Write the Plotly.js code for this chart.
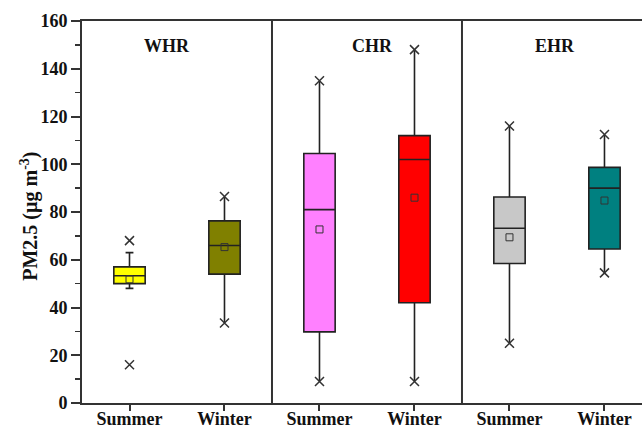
<!DOCTYPE html>
<html>
<head>
<meta charset="utf-8">
<script src="https://cdn.plot.ly/plotly-3.0.1.min.js"></script>
<style>
  html, body { margin: 0; padding: 0; background: #fff; overflow: hidden; }
  #chart { width: 642px; height: 428px; }
</style>
</head>
<body>
<div id="chart"></div>
<script>
// PM2.5 concentrations by region and season
const regions = ['WHR', 'CHR', 'EHR'];
const seasons = ['Summer', 'Winter', 'Summer', 'Winter', 'Summer', 'Winter'];
const lowerWhisker = [48, 33.5, 9, 9, 25, 54.5];
const q1 = [50, 54, 29.8, 42, 58.4, 64.5];
const median = [53.3, 66, 81, 102, 73.2, 90];
const q3 = [57, 76.3, 104.5, 112, 86.3, 98.7];
const upperWhisker = [63, 86.5, 135, 148, 116, 112.5];
const means = [51.8, 65.3, 72.7, 86, 69.4, 84.8];
const minValues = [16, 33.5, 9, 9, 25, 54.5];
const maxValues = [68, 86.5, 135, 148, 116, 112.5];
const fillColors = ['#FFFF00', '#808000', '#FF80FF', '#FF0000', '#C8C8C8', '#008080'];

const FONT = 'Liberation Serif, Times New Roman, serif';
const positions = seasons.map((_, i) => i);

const traces = [];
positions.forEach((pos, i) => {
  traces.push({
    type: 'box',
    x: [pos],
    q1: [q1[i]],
    median: [median[i]],
    q3: [q3[i]],
    lowerfence: [lowerWhisker[i]],
    upperfence: [upperWhisker[i]],
    width: 0.33,
    whiskerwidth: i === 0 ? 0.25 : 0,
    fillcolor: fillColors[i],
    line: { color: '#222', width: 1.6 },
    hoverinfo: 'skip',
    showlegend: false
  });
});

// mean markers
traces.push({
  type: 'scatter', mode: 'markers',
  x: positions, y: means,
  marker: { symbol: 'square-open', size: 7, color: '#333', line: { width: 1 } },
  hoverinfo: 'skip', showlegend: false
});

// minimum and maximum markers
traces.push({
  type: 'scatter', mode: 'markers',
  x: positions.concat(positions),
  y: minValues.concat(maxValues),
  marker: { symbol: 'x-thin-open', size: 9, color: '#333', line: { width: 1.5, color: '#333' } },
  hoverinfo: 'skip', showlegend: false
});

const regionLabelX = [0.39, 2.56, 4.48];
const annotations = regions.map((r, k) => ({
  x: regionLabelX[k], y: 149.5, xref: 'x', yref: 'y',
  text: r, showarrow: false,
  font: { family: FONT, size: 18, color: '#111', weight: 'bold' }
}));
annotations.push({
  x: -0.093, xref: 'paper', xanchor: 'center', y: 0.49, yref: 'paper',
  text: 'PM2.5 (µg m<sup>-3</sup>)', textangle: -90, showarrow: false,
  font: { family: FONT, size: 20, color: '#111', weight: 'bold' }
});

const layout = {
  width: 642, height: 428,
  margin: { l: 82, r: 0, t: 21, b: 25 },
  paper_bgcolor: '#fff', plot_bgcolor: '#fff',
  boxmode: 'overlay',
  showlegend: false,
  xaxis: {
    range: [-0.5, 5.395],
    tickvals: positions, ticktext: seasons,
    ticks: 'outside', ticklen: 6, tickwidth: 2, tickcolor: '#333',
    ticklabelstandoff: -8,
    showline: true, linecolor: '#333', linewidth: 2, mirror: true,
    showgrid: false, zeroline: false,
    tickfont: { family: FONT, size: 18, color: '#111', weight: 'bold' }
  },
  yaxis: {
    range: [0, 160], dtick: 20, tick0: 0,
    ticks: 'outside', ticklen: 9, tickwidth: 2, tickcolor: '#333',
    minor: { dtick: 10, ticks: 'outside', ticklen: 5, tickwidth: 1.5, tickcolor: '#333' },
    showline: true, linecolor: '#333', linewidth: 2,
    showgrid: false, zeroline: false,
    tickfont: { family: FONT, size: 18, color: '#111', weight: 'bold' }
  },
  shapes: [1.5, 3.5].map(xv => ({
    type: 'line', xref: 'x', yref: 'paper', x0: xv, x1: xv, y0: 0, y1: 1,
    line: { color: '#333', width: 2 }
  })),
  annotations: annotations
};

Plotly.newPlot('chart', traces, layout, { staticPlot: true, displayModeBar: false });
</script>
</body>
</html>
